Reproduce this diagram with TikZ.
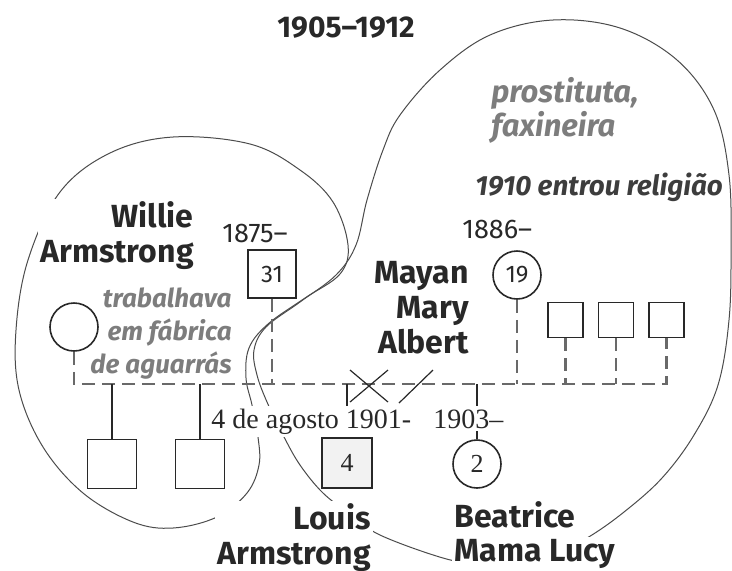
\documentclass[tikz,border=0pt]{standalone}
\usepackage{fontspec}
\setmainfont{Fira Sans}
\newfontfamily\numserif{Liberation Serif}
\usetikzlibrary{positioning}
\definecolor{GnInk}{RGB}{40,40,40}
\definecolor{GnGray}{RGB}{125,125,125}
\definecolor{GnDash}{RGB}{105,105,105}
\definecolor{GnLine}{RGB}{75,75,75}
\definecolor{GnFill}{RGB}{242,242,242}
\tikzset{
  gn/male/.style={
    draw=GnInk,
    line width=0.8pt,
    fill=white,
    minimum size=24pt,
    inner sep=0pt,
    text=GnInk,
    font=\fontsize{12}{14}\selectfont
  },
  gn/female/.style={gn/male, circle},
  gn/kid/.style={gn/male, minimum size=17.5pt},
  gn/title/.style={font=\fontsize{15}{17}\selectfont\bfseries, text=GnInk},
  gn/name/.style={font=\fontsize{16}{17.5}\selectfont\bfseries, text=GnInk, fill=white, inner sep=1pt},
  gn/note/.style={font=\fontsize{13}{16.5}\selectfont\bfseries\itshape, text=GnGray, inner sep=1pt},
  gn/year/.style={font=\fontsize{13.5}{15}\selectfont, text=GnInk, inner sep=1pt},
  gn/date/.style={font=\numserif\fontsize{14}{16}\selectfont, text=GnInk, fill=white, inner sep=1.5pt},
  gn/kin/.style={draw=GnDash, line width=1.2pt, dash pattern=on 6.5pt off 3.5pt},
  gn/blood/.style={draw=GnInk, line width=0.6pt},
  gn/border/.style={draw=GnLine, line width=0.5pt}
}

\begin{document}
\begin{tikzpicture}[x=0.5pt,y=-0.5pt]
  \useasboundingbox (0,0) rectangle (732,570);
  % household borders
  \draw[gn/border] plot[smooth cycle, tension=0.6] coordinates {
    (173,137) (250,144) (300,170) (333,202) (348,245) (340,274) (305,298)
    (268,324) (249,348) (246,378) (252,405) (258,437) (259,465) (247,493)
    (217,517) (173,528) (133,522) (83,493) (43,447) (19,390) (16,330)
    (28,260) (60,192) (110,153)};
  \draw[gn/border] plot[smooth cycle, tension=0.6] coordinates {
    (480,564) (443,558) (380,535) (350,514) (323,493) (300,465) (283,435)
    (267,402) (257,375) (254,350) (266,327) (300,302) (336,275) (356,245)
    (367,200) (383,150) (400,115) (440,70) (490,35) (553,20) (620,28)
    (677,60) (714,110) (729,175) (731,250) (729,320) (718,385) (694,435)
    (662,478) (624,512) (587,538) (550,556) (515,564)};

  \node[gn/title] (title) at (346,28) {1905–1912};

  % people
  \node[gn/male] (willie) at (272,274) {31};
  \node[gn/female] (wife) at (74,327) {};
  \node[gn/male,minimum size=24.5pt] (son1) at (112,464) {};
  \node[gn/male,minimum size=24.5pt] (son2) at (200,464) {};
  \node[gn/female] (mayann) at (517,275) {19};
  \node[gn/kid] (kid1) at (565.5,320) {};
  \node[gn/kid] (kid2) at (616,320) {};
  \node[gn/kid] (kid3) at (666.5,320) {};
  \node[gn/male,minimum size=25pt,fill=GnFill,font=\numserif\fontsize{13}{15}\selectfont] (louis) at (347,463) {4};
  \node[gn/female,font=\numserif\fontsize{13}{15}\selectfont] (beatrice) at (477,464) {2};

  % family lines
  \coordinate (bar) at (0,384);
  \draw[gn/kin] (wife.south) |- (bar -| kid3.south) -- (kid3.south);
  \foreach \p in {willie,mayann,kid1,kid2}
    \draw[gn/kin] (\p.south) -- (\p.south |- bar);
  \foreach \p in {son1,son2,louis,beatrice}
    \draw[gn/blood] (\p.north |- bar) -- (\p.north);
  \coordinate (split) at (369,386);
  \coordinate (cut) at (416,386);
  \draw[gn/blood] ([shift={(-19,-16)}]split) -- ([shift={(19,16)}]split)
                  ([shift={(-19,16)}]split) -- ([shift={(19,-16)}]split);
  \draw[gn/blood] ([shift={(-17,17)}]cut) -- ([shift={(17,-16)}]cut);

  % labels
  \node[gn/year,anchor=base west] (wyear) at (220,242) {1875–};
  \node[gn/year,anchor=base west] (myear) at (460,238) {1886–};
  \node[gn/name,align=right,anchor=north east] (wname) at (196,199) {Willie\\Armstrong};
  \node[gn/name,align=right,anchor=north east] (mname) at (471,259) {Mayan\\Mary\\Albert};
  \node[gn/note,align=right,anchor=north east] (wjob) at (234,285) {trabalhava\\em fábrica\\de aguarrás};
  \node[gn/note,align=left,anchor=north west,font=\fontsize{15.5}{15.5}\selectfont\bfseries\itshape] (mjob) at (489,75) {prostituta,\\faxineira};
  \node[gn/note,anchor=base west,text=GnInk!90,font=\fontsize{13.9}{15}\selectfont\bfseries\itshape] (faith) at (473,195) {1910 entrou religião};
  \node[gn/date,anchor=base west] (ldate) at (208,428) {4 de agosto 1901-};
  \node[gn/date,anchor=base west] (bdate) at (430,428) {1903–};
  \node[gn/name,align=right,anchor=north east] (lname) at (373,501) {Louis\\Armstrong};
  \node[gn/name,anchor=base west] (bname) at (452,527) {Beatrice};
  \node[gn/name,anchor=base west] (bnick) at (452,561) {Mama Lucy};
\end{tikzpicture}
\end{document}
